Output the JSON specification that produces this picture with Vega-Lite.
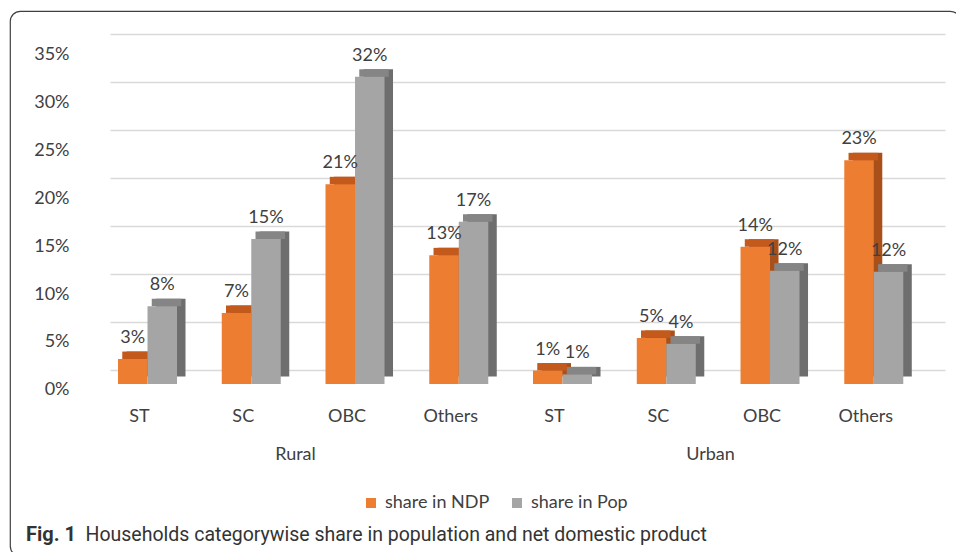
{
  "$schema": "https://vega.github.io/schema/vega-lite/v6.json",
  "width": 950,
  "height": 545,
  "autosize": "none",
  "padding": {"left": 10, "top": 11, "right": 0, "bottom": 0},
  "background": "white",
  "config": {
    "font": "Lato",
    "view": {"stroke": "#404040", "strokeWidth": 1.2, "cornerRadius": 10, "fill": "white"}
  },
  "title": {
    "text": "Fig. 1",
    "orient": "bottom",
    "anchor": "start",
    "frame": "group",
    "offset": -31,
    "dx": 16,
    "font": "Roboto",
    "fontSize": 20,
    "fontWeight": "bold",
    "color": "#333333"
  },
  "data": {
    "values": [
      {"region": "Rural", "cat": "ST", "key": "Rural|ST", "series": "share in NDP", "value": 0.026},
      {"region": "Rural", "cat": "ST", "key": "Rural|ST", "series": "share in Pop", "value": 0.081},
      {"region": "Rural", "cat": "SC", "key": "Rural|SC", "series": "share in NDP", "value": 0.074},
      {"region": "Rural", "cat": "SC", "key": "Rural|SC", "series": "share in Pop", "value": 0.151},
      {"region": "Rural", "cat": "OBC", "key": "Rural|OBC", "series": "share in NDP", "value": 0.208},
      {"region": "Rural", "cat": "OBC", "key": "Rural|OBC", "series": "share in Pop", "value": 0.320},
      {"region": "Rural", "cat": "Others", "key": "Rural|Others", "series": "share in NDP", "value": 0.134},
      {"region": "Rural", "cat": "Others", "key": "Rural|Others", "series": "share in Pop", "value": 0.169},
      {"region": "Urban", "cat": "ST", "key": "Urban|ST", "series": "share in NDP", "value": 0.014},
      {"region": "Urban", "cat": "ST", "key": "Urban|ST", "series": "share in Pop", "value": 0.010},
      {"region": "Urban", "cat": "SC", "key": "Urban|SC", "series": "share in NDP", "value": 0.048},
      {"region": "Urban", "cat": "SC", "key": "Urban|SC", "series": "share in Pop", "value": 0.042},
      {"region": "Urban", "cat": "OBC", "key": "Urban|OBC", "series": "share in NDP", "value": 0.143},
      {"region": "Urban", "cat": "OBC", "key": "Urban|OBC", "series": "share in Pop", "value": 0.118},
      {"region": "Urban", "cat": "Others", "key": "Urban|Others", "series": "share in NDP", "value": 0.233},
      {"region": "Urban", "cat": "Others", "key": "Urban|Others", "series": "share in Pop", "value": 0.117}
    ]
  },
  "encoding": {
    "x": {
      "field": "key",
      "type": "nominal",
      "sort": null,
      "title": "Households categorywise share in population and net domestic product",
      "scale": {"range": [100, 935], "paddingInner": 0.4313, "paddingOuter": 0.2396, "align": 0.161},
      "axis": {
        "orient": "bottom",
        "offset": -140,
        "ticks": false,
        "tickSize": 0,
        "domain": false,
        "grid": false,
        "labelPadding": 0,
        "labelBaseline": "middle",
        "labelAngle": 0,
        "labelOffset": -8,
        "labelFont": "Lato",
        "labelFontSize": 18,
        "labelColor": "#404040",
        "labelExpr": "split(datum.label, '|')[1]",
        "titleX": 75,
        "titleY": 118,
        "titleAlign": "left",
        "titleAnchor": "start",
        "titleBaseline": "middle",
        "titleFont": "Roboto",
        "titleFontSize": 19.5,
        "titleFontWeight": "normal",
        "titleColor": "#333333"
      }
    },
    "y": {
      "field": "value",
      "type": "quantitative",
      "title": null,
      "scale": {"domain": [-0.179167, 0.388542], "nice": false, "zero": false},
      "axis": {
        "orient": "left",
        "offset": -59,
        "values": [0, 0.05, 0.1, 0.15, 0.2, 0.25, 0.3, 0.35],
        "format": ".0%",
        "ticks": false,
        "tickSize": 0,
        "domain": false,
        "grid": true,
        "gridColor": "#D9D9D9",
        "gridWidth": 1.5,
        "tickOffset": -14,
        "labelOffset": 20,
        "labelPadding": 0,
        "labelBaseline": "middle",
        "labelFont": "Lato",
        "labelFontSize": 18,
        "labelColor": "#404040"
      }
    }
  },
  "resolve": {"scale": {"xOffset": "independent"}},
  "layer": [
    {
      "mark": {"type": "bar", "yOffset": -7.5, "y2Offset": -7.5},
      "encoding": {
        "xOffset": {"field": "series", "sort": null, "scale": {"range": [8.5, 67.5], "paddingInner": 0, "paddingOuter": 0}},
        "y2": {"datum": 0},
        "fill": {"condition": {"test": "datum.series == 'share in NDP'", "value": "#A9501A"}, "value": "#6E6E6E"}
      }
    },
    {
      "mark": {"type": "bar", "yOffset": -7.5, "y2Offset": 0},
      "encoding": {
        "xOffset": {"field": "series", "sort": null, "scale": {"range": [4.25, 63.25], "paddingInner": 0, "paddingOuter": 0}},
        "y2": {"field": "value"},
        "fill": {"condition": {"test": "datum.series == 'share in NDP'", "value": "#C35A1C"}, "value": "#858585"}
      }
    },
    {
      "mark": {"type": "bar"},
      "encoding": {
        "xOffset": {"field": "series", "sort": null, "scale": {"paddingInner": 0, "paddingOuter": 0}},
        "y2": {"datum": 0},
        "color": {
          "field": "series",
          "type": "nominal",
          "scale": {"domain": ["share in NDP", "share in Pop"], "range": ["#ED7D31", "#A5A5A5"]},
          "legend": {
            "orient": "none",
            "legendX": 352,
            "legendY": 483,
            "direction": "horizontal",
            "title": null,
            "symbolType": "square",
            "symbolSize": 100,
            "symbolStrokeWidth": 0,
            "labelFont": "Lato",
            "labelFontSize": 18,
            "labelColor": "#404040",
            "labelOffset": 5,
            "columnPadding": 18,
            "padding": 0
          }
        }
      }
    },
    {
      "mark": {"type": "text", "baseline": "alphabetic", "dy": -16, "fontSize": 18, "font": "Lato", "color": "#404040"},
      "encoding": {
        "xOffset": {"field": "series", "sort": null, "scale": {"type": "band", "paddingInner": 0, "paddingOuter": 0}},
        "text": {"field": "value", "type": "quantitative", "format": ".0%"}
      }
    },
    {
      "transform": [{"filter": "datum.cat == 'SC' && datum.series == 'share in NDP'"}],
      "mark": {"type": "text", "baseline": "middle", "fontSize": 18, "font": "Lato", "color": "#404040"},
      "encoding": {
        "x": {"field": "key", "type": "nominal", "sort": null, "bandPosition": 1.25},
        "y": {"datum": -0.07396, "type": "quantitative"},
        "text": {"field": "region", "type": "nominal"}
      }
    }
  ]
}
